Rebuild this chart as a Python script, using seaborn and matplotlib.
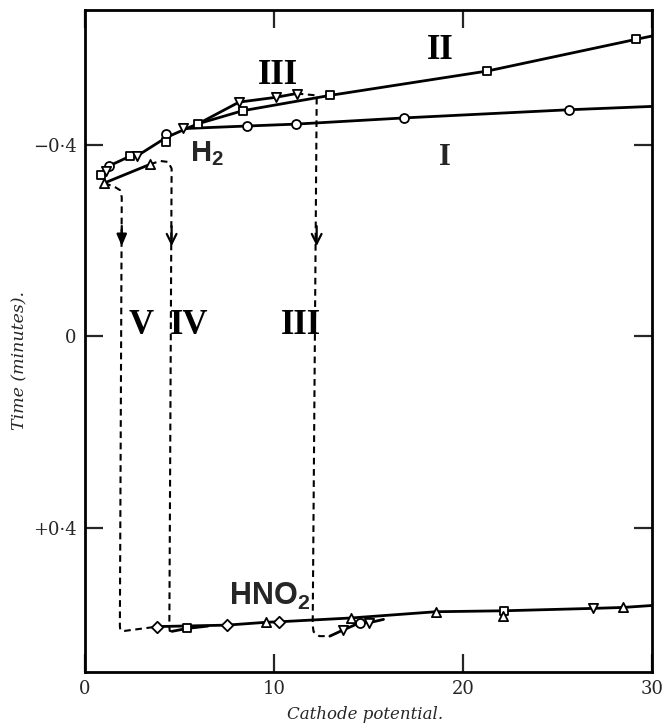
import numpy as np
import pandas as pd
import matplotlib
matplotlib.use("Agg")
import matplotlib.pyplot as plt
import seaborn as sns

# ---------------------------------------------------------------------------
# data (x: cathode potential, y: time in minutes)
# ---------------------------------------------------------------------------
stem_x = [0.83, 1.29, 2.38, 2.77, 4.29, 5.38]
stem_y = [-0.337, -0.356, -0.376, -0.377, -0.415, -0.434]

curve1_x = [5.38, 8.55, 11.15, 16.9, 25.6, 30.0]
curve1_y = [-0.434, -0.439, -0.443, -0.456, -0.473, -0.480]

curve2_x = [5.38, 6.0, 8.34, 12.96, 21.3, 29.15, 30.0]
curve2_y = [-0.434, -0.444, -0.471, -0.503, -0.554, -0.620, -0.627]

curve3_x = [6.0, 8.15, 10.1, 11.2]
curve3_y = [-0.444, -0.489, -0.499, -0.507]

curve4_x = [1.02, 3.44]
curve4_y = [-0.320, -0.359]

# dashed transitions down to the HNO2 branch
drop5_x = [1.02, 1.6, 1.85, 1.94, 1.84, 1.86, 2.1, 3.83]
drop5_y = [-0.320, -0.311, -0.305, -0.290, 0.606, 0.614, 0.616, 0.607]
drop4_x = [3.44, 3.97, 4.4, 4.58, 4.46, 4.48, 4.6]
drop4_y = [-0.359, -0.366, -0.364, -0.350, 0.608, 0.616, 0.617]
drop3_x = [11.2, 12.26, 12.26, 12.05, 12.1, 12.4, 12.96]
drop3_y = [-0.507, -0.503, -0.490, 0.605, 0.618, 0.627, 0.627]

# lower (HNO2) branch
hno2_x = [3.83, 7.5, 9.6, 10.26, 14.1, 18.57, 22.17, 26.9, 28.5, 30.0]
hno2_y = [0.607, 0.604, 0.598, 0.597, 0.589, 0.576, 0.574, 0.569, 0.567, 0.563]
tail4_x = [4.6, 5.38, 6.5]
tail4_y = [0.617, 0.611, 0.606]
tail3_x = [12.96, 13.67, 14.55, 15.04, 15.8]
tail3_y = [0.627, 0.614, 0.599, 0.599, 0.592]

# measured points by symbol
circ_x = [1.29, 4.29, 8.55, 11.15, 16.9, 25.6, 14.55]
circ_y = [-0.356, -0.423, -0.439, -0.443, -0.456, -0.473, 0.599]
sq_x = [0.83, 2.38, 4.29, 6.0, 8.34, 12.96, 21.3, 29.15, 5.38, 22.17]
sq_y = [-0.337, -0.376, -0.406, -0.444, -0.471, -0.503, -0.554, -0.620, 0.611, 0.574]
vtri_x = [1.1, 2.77, 5.17, 8.15, 10.1, 11.2, 13.67, 15.04, 26.9]
vtri_y = [-0.345, -0.377, -0.434, -0.489, -0.499, -0.507, 0.614, 0.599, 0.569]
tri_x = [1.02, 3.44, 9.6, 14.1, 18.57, 22.13, 28.5]
tri_y = [-0.320, -0.359, 0.598, 0.590, 0.576, 0.585, 0.567]
dia_x = [3.83, 7.5, 10.26]
dia_y = [0.607, 0.604, 0.597]

arrow_x = [1.94, 4.58, 12.26]
arrow_filled = [True, False, False]

xticks = [0, 10, 20, 30]
yticks = [-0.4, 0, 0.4]
ytick_labels = ["\u22120\u00b74", "0", "+0\u00b74"]

# ---------------------------------------------------------------------------
sns.set_style("ticks")
plt.rcParams["font.family"] = ["DejaVu Serif", "Liberation Serif"]
plt.rcParams["mathtext.fontset"] = "custom"
plt.rcParams["mathtext.rm"] = "Liberation Sans"
plt.rcParams["mathtext.bf"] = "Liberation Sans:bold"

fig = plt.figure(figsize=(6.65, 7.23), dpi=100)
ax = fig.add_axes([0.128, 0.0705, 0.852, 0.916])

solid_kw = dict(color="black", linewidth=2.0, estimator=None, sort=False, legend=False)
dash_kw = dict(color="black", linewidth=1.5, estimator=None, sort=False, legend=False)

for xs, ys in [(stem_x, stem_y), (curve1_x, curve1_y), (curve2_x, curve2_y),
               (curve3_x, curve3_y), (curve4_x, curve4_y), (hno2_x, hno2_y),
               (tail4_x, tail4_y), (tail3_x, tail3_y)]:
    sns.lineplot(x=xs, y=ys, ax=ax, **solid_kw)

for xs, ys in [(drop5_x, drop5_y), (drop4_x, drop4_y), (drop3_x, drop3_y)]:
    sns.lineplot(x=xs, y=ys, ax=ax, **dash_kw)
    ax.lines[-1].set_linestyle((0, (3.2, 2.2)))

for xs, ys, m, s in [(circ_x, circ_y, "o", 42), (sq_x, sq_y, "s", 34),
                     (vtri_x, vtri_y, "v", 44), (tri_x, tri_y, "^", 44),
                     (dia_x, dia_y, "D", 34)]:
    sns.scatterplot(x=xs, y=ys, ax=ax, marker=m, s=s, facecolor="white",
                    edgecolor="black", linewidth=1.3, zorder=5)

for xa, filled in zip(arrow_x, arrow_filled):
    style = "-|>,head_length=0.7,head_width=0.3" if filled else "->,head_length=0.7,head_width=0.35"
    ax.annotate("", xy=(xa, -0.188), xytext=(xa, -0.23),
                arrowprops=dict(arrowstyle=style, color="black", lw=1.6,
                                shrinkA=0, shrinkB=0), zorder=6)

# curve labels
roman_kw = dict(fontsize=25, fontweight="bold", ha="center", va="center",
                family="Liberation Serif", color="black")
ax.text(18.8, -0.597, "II", **roman_kw)
ax.text(10.2, -0.545, "III", **roman_kw)
ax.text(19.05, -0.374, "I", fontsize=22, fontweight="bold", ha="center",
        va="center", family="Liberation Serif")
ax.text(2.95, -0.023, "V", **roman_kw)
ax.text(5.5, -0.023, "IV", **roman_kw)
ax.text(11.45, -0.023, "III", **roman_kw)
ax.text(6.45, -0.382, r"$\mathbf{H_2}$", fontsize=21, ha="center", va="center")
ax.text(9.75, 0.545, r"$\mathbf{HNO_2}$", fontsize=22, ha="center", va="center")

ax.set_xlim(0, 30)
ax.set_ylim(0.702, -0.682)
ax.set_xticks(xticks)
ax.set_xticklabels([str(t) for t in xticks])
ax.set_yticks(yticks)
ax.set_yticklabels(ytick_labels)
ax.tick_params(direction="in", length=13, width=1.6, labelsize=13,
               top=True, right=True, pad=6)
for sp in ax.spines.values():
    sp.set_linewidth(2.0)
    sp.set_color("black")

ax.set_xlabel("Cathode potential.", fontsize=12, style="italic")
ax.set_ylabel("Time (minutes).", fontsize=12.5, style="italic")
ax.xaxis.set_label_coords(0.494, -0.052)
ax.yaxis.set_label_coords(-0.10, 0.47)

fig.savefig("out.png", dpi=100)
